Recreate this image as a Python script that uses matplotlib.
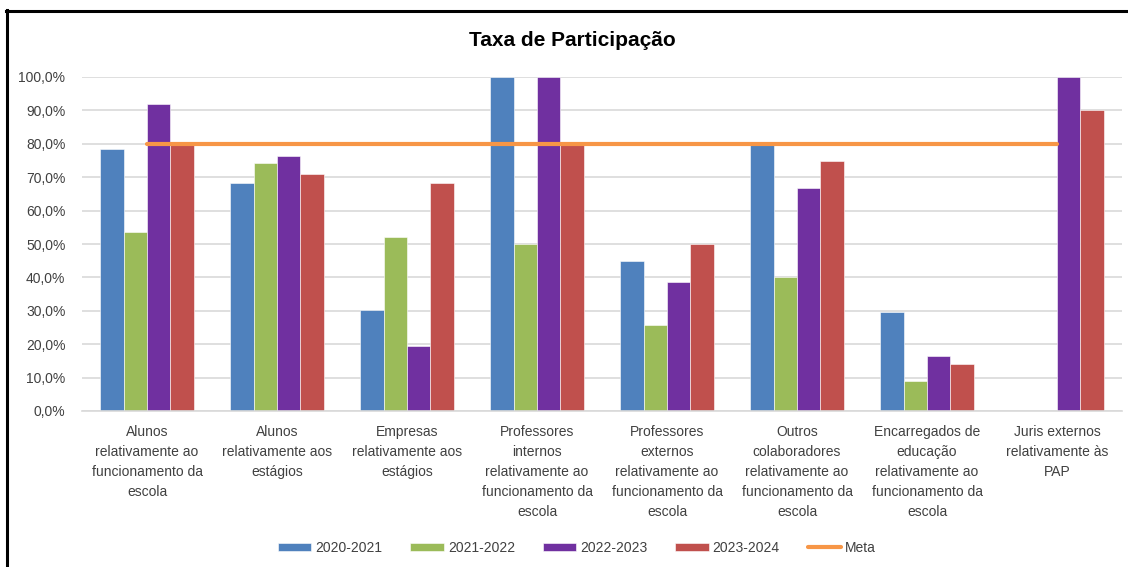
import numpy as np
import matplotlib
matplotlib.use("Agg")
import matplotlib.pyplot as plt
from matplotlib.ticker import FuncFormatter
from matplotlib.lines import Line2D

plt.rcParams['font.family'] = ['Liberation Sans', 'DejaVu Sans']

categories = [
    "Alunos\nrelativamente ao\nfuncionamento da\nescola",
    "Alunos\nrelativamente aos\nestágios",
    "Empresas\nrelativamente aos\nestágios",
    "Professores\ninternos\nrelativamente ao\nfuncionamento da\nescola",
    "Professores\nexternos\nrelativamente ao\nfuncionamento da\nescola",
    "Outros\ncolaboradores\nrelativamente ao\nfuncionamento da\nescola",
    "Encarregados de\neducação\nrelativamente ao\nfuncionamento da\nescola",
    "Juris externos\nrelativamente às\nPAP",
]

anos = ["2020-2021", "2021-2022", "2022-2023", "2023-2024"]
v_2020 = [0.784, 0.682, 0.302, 1.000, 0.448, 0.800, 0.296, np.nan]
v_2021 = [0.537, 0.743, 0.520, 0.500, 0.257, 0.400, 0.090, np.nan]
v_2022 = [0.918, 0.764, 0.195, 1.000, 0.386, 0.667, 0.166, 1.000]
v_2023 = [0.800, 0.711, 0.682, 0.800, 0.500, 0.750, 0.141, 0.900]
meta = [0.8] * 8

cores = ["#4F81BD", "#9BBB59", "#7030A0", "#C0504D"]

fig = plt.figure(figsize=(11.28, 5.67), dpi=100)
ax = fig.add_axes([82 / 1128, 156 / 567, 1040 / 1128, 334 / 567])

x = np.arange(len(categories))
w = 0.18
series = [v_2020, v_2021, v_2022, v_2023]
for i, (vals, nome, cor) in enumerate(zip(series, anos, cores)):
    ax.bar(x + (i - 1.5) * w, vals, w, color=cor, label=nome,
           edgecolor="#FFFFFF", linewidth=0.4, zorder=2)

ax.plot(x, meta, color="#F79646", linewidth=3, label="Meta", zorder=3,
        solid_capstyle="round")

ax.set_xlim(-0.5, len(categories) - 0.5)
ax.set_ylim(0, 1.0)
ax.set_yticks(np.arange(0, 1.01, 0.1))
ax.yaxis.set_major_formatter(FuncFormatter(lambda v, p: f"{v * 100:.1f}%".replace(".", ",")))
ax.grid(axis="y", color="#D9D9D9", linewidth=1.2, zorder=0)
ax.set_axisbelow(True)
for s in ["top", "right", "left"]:
    ax.spines[s].set_visible(False)
ax.spines["bottom"].set_color("#D9D9D9")
ax.spines["bottom"].set_linewidth(1.2)
ax.tick_params(axis="both", length=0, labelsize=10, colors="#404040")
ax.tick_params(axis="y", pad=12)
ax.tick_params(axis="x", pad=10)
ax.set_xticks(x)
ax.set_xticklabels(categories, linespacing=1.55)

fig.text(572 / 1128, 1 - 41 / 567, "Taxa de Participação", ha="center", va="center",
         fontsize=15, fontweight="bold", color="#000000")

handles, labels = ax.get_legend_handles_labels()
ordem = [1, 2, 3, 4, 0]
ax.legend([handles[k] for k in ordem], [labels[k] for k in ordem],
          loc="center", bbox_to_anchor=(577 / 1128, 1 - 548 / 567),
          bbox_transform=fig.transFigure, ncol=5, frameon=False,
          fontsize=10, handlelength=2.4, handleheight=0.55,
          columnspacing=2.0, handletextpad=0.3, labelcolor="#404040")

# moldura (só topo e lado esquerdo, como no recorte)
fig.add_artist(Line2D([7 / 1128, 7 / 1128], [0, 1 - 10 / 567], color="black", linewidth=2.2))
fig.add_artist(Line2D([6 / 1128, 1], [1 - 11 / 567, 1 - 11 / 567], color="black", linewidth=2.2))

fig.savefig("out.png", dpi=100)
